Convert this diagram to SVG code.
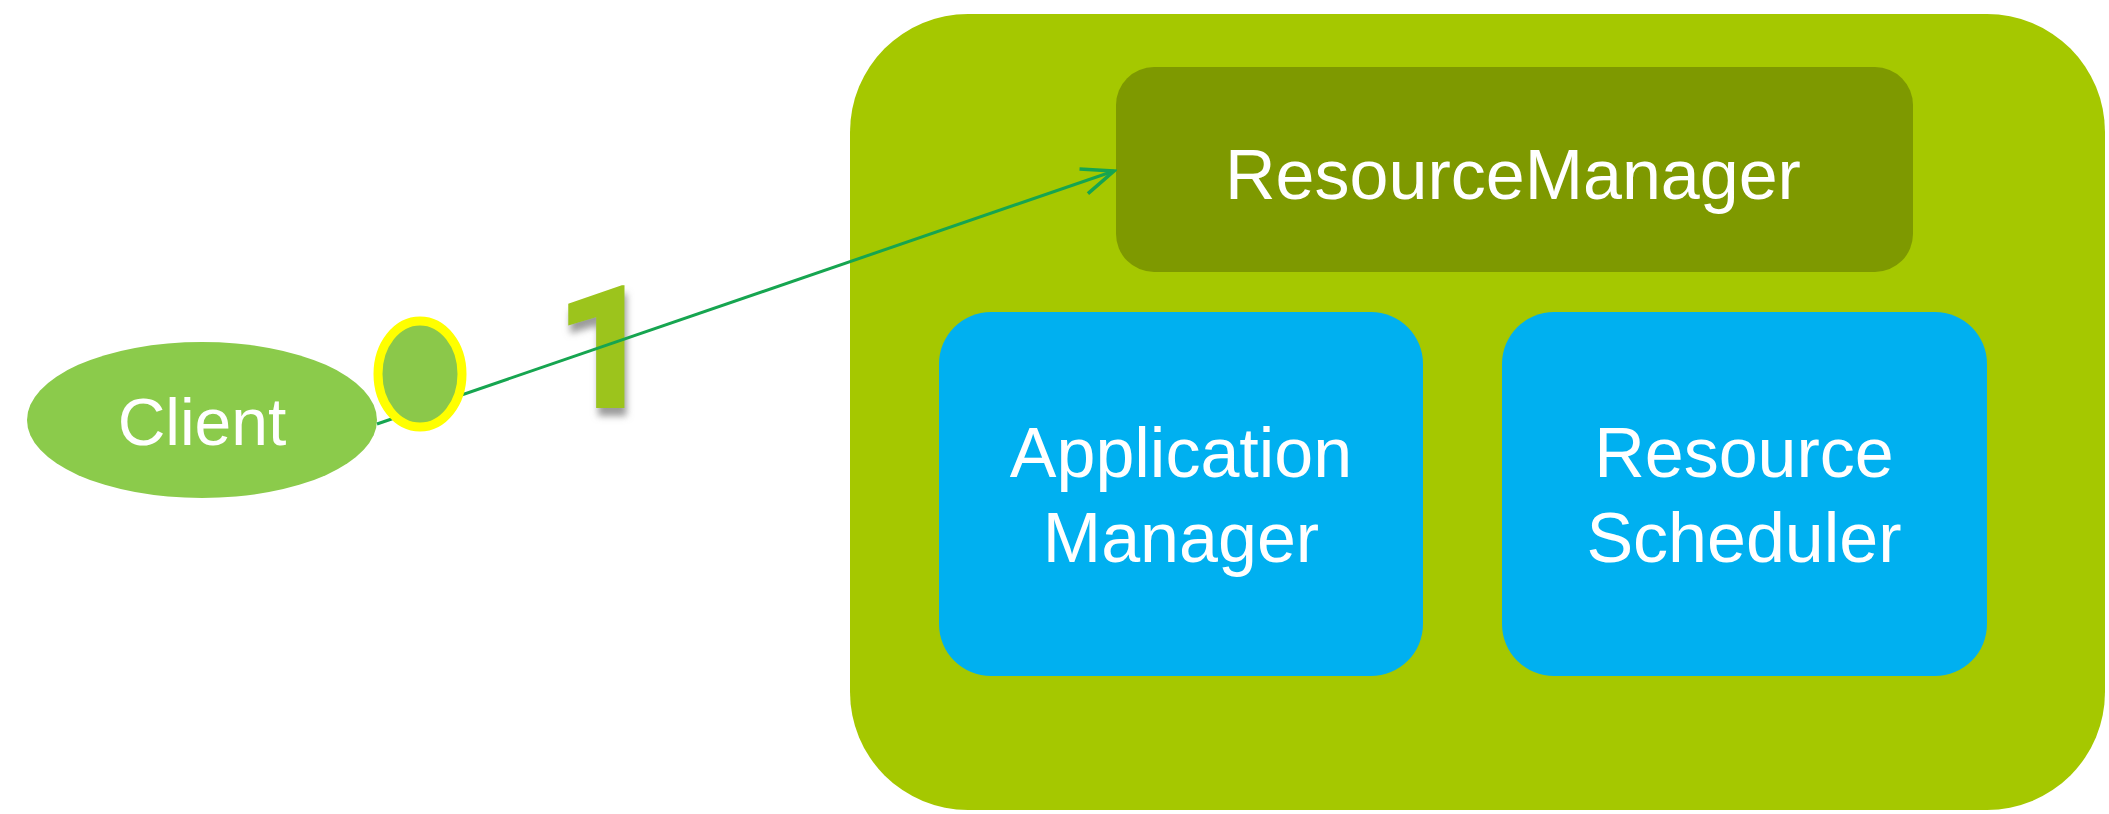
<svg xmlns="http://www.w3.org/2000/svg" width="2109" height="814" viewBox="0 0 2109 814">
<style>
.lbl{font-family:"Liberation Sans",Arial,sans-serif;fill:#ffffff;text-anchor:middle;font-size:70px}
.num{font-family:Roboto,"Open Sans",sans-serif;font-weight:900;font-size:172px;fill:#9cc41a;text-anchor:middle}
.conn{stroke:#16a550;stroke-width:3;fill:none}
</style>
<defs>
<marker id="arr2" viewBox="0 0 40 40" refX="37" refY="20" markerWidth="40" markerHeight="40" markerUnits="userSpaceOnUse" orient="auto">
<path d="M5,7 L37,20 L5,33" fill="none" stroke="#16a550" stroke-width="3.5"/>
</marker>
<filter id="sh" x="-40%" y="-20%" width="180%" height="150%">
<feDropShadow dx="2" dy="8" stdDeviation="3.5" flood-color="#7a7a7a" flood-opacity="0.75"/>
</filter>
</defs>
<rect width="2109" height="814" fill="#ffffff"/>
<g id="container">
<rect x="850" y="14" width="1255" height="796" rx="118" fill="#a5c800"/>
</g>
<g id="resourcemanager">
<rect x="1116" y="67" width="797" height="205" rx="38" fill="#7e9900"/>
<text class="lbl" x="1513" y="199">ResourceManager</text>
</g>
<g id="applicationmanager">
<rect x="939" y="312" width="484" height="364" rx="52" fill="#00b0f0"/>
<text class="lbl" x="1181" y="477">Application</text>
<text class="lbl" x="1181" y="562">Manager</text>
</g>
<g id="resourcescheduler">
<rect x="1502" y="312" width="485" height="364" rx="52" fill="#00b0f0"/>
<text class="lbl" x="1744" y="477">Resource</text>
<text class="lbl" x="1744" y="562">Scheduler</text>
</g>
<g id="client">
<ellipse cx="202" cy="420" rx="175" ry="78" fill="#8bcb4b"/>
<text class="lbl" x="202" y="445" style="font-size:66px">Client</text>
</g>
<g id="step1">
<text class="num" x="604" y="408" filter="url(#sh)">1</text>
</g>
<g id="connectors">
<line class="conn" x1="377" y1="424" x2="1114" y2="171" marker-end="url(#arr2)"/>
</g>
<g id="port">
<ellipse cx="420" cy="374" rx="42" ry="53" fill="#8bc84a" stroke="#ffff00" stroke-width="9"/>
</g>
</svg>
